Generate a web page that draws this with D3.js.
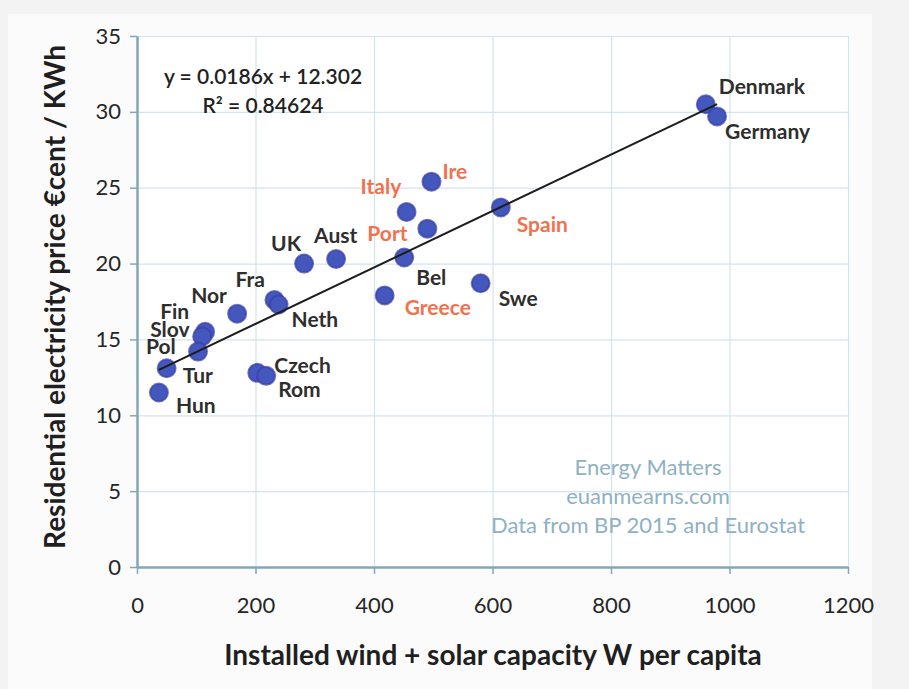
<!DOCTYPE html>
<html>
<head>
<meta charset="utf-8">
<script src="https://cdn.jsdelivr.net/npm/d3@7"></script>
<style>
  html, body { margin: 0; padding: 0; background: #f3f3f3; }
  svg { display: block; }
  .axis .tick text { font-family: Lato, "Open Sans", sans-serif; font-size: 22px; fill: #262626; }
</style>
</head>
<body>
<div id="chart"></div>
<script>
// values
const countries = ['Denmark', 'Germany', 'Ire', 'Italy', 'Port', 'Spain', 'UK', 'Aust', 'Bel',
  'Fra', 'Neth', 'Nor', 'Fin', 'Slov', 'Pol', 'Tur', 'Hun', 'Czech', 'Rom', 'Greece', 'Swe'];
const capacity = [960, 979, 497, 455, 490, 614, 282, 336, 451,
  232, 239, 169, 115, 110, 103, 50, 37, 203, 218, 418, 580];
const price = [30.5, 29.7, 25.4, 23.4, 22.3, 23.7, 20.0, 20.3, 20.4,
  17.6, 17.3, 16.7, 15.5, 15.2, 14.2, 13.1, 11.5, 12.8, 12.6, 17.9, 18.7];
const highlighted = ['Ire', 'Italy', 'Port', 'Spain', 'Greece'];

const xTicks = [0, 200, 400, 600, 800, 1000, 1200];
const yTicks = [0, 5, 10, 15, 20, 25, 30, 35];

const slope = 0.0186;
const intercept = 12.302;
const equationLines = ['y = 0.0186x + 12.302', 'R² = 0.84624'];
const creditLines = ['Energy Matters', 'euanmearns.com', 'Data from BP 2015 and Eurostat'];

// label placement next to each point (layout only)
const labelOffset = {
  Denmark: [13, -18], Germany: [8, 15], Ire: [11, -10], Italy: [-46, -25], Port: [-60, 5],
  Spain: [16, 17], UK: [-33, -20], Aust: [-22, -23], Bel: [12, 20], Fra: [-39, -20],
  Neth: [13, 15], Nor: [-46, -18], Fin: [-45, -20], Slov: [-52, -7], Pol: [-52, -5],
  Tur: [16, 7], Hun: [17, 13], Czech: [17, -7], Rom: [12, 14], Greece: [20, 12], Swe: [18, 15]
};

const width = 909, height = 689;
const margin = { top: 36, right: 61, bottom: 122, left: 137 };
const innerWidth = width - margin.left - margin.right;
const innerHeight = height - margin.top - margin.bottom;

const font = 'Lato, "Open Sans", sans-serif';

const svg = d3.select('#chart')
  .append('svg')
    .attr('width', width)
    .attr('height', height);

svg.append('rect')
  .attr('x', 8).attr('y', 14)
  .attr('width', 864).attr('height', height - 14)
  .attr('fill', '#fbfbfb');

const g = svg.append('g')
  .attr('transform', `translate(${margin.left}, ${margin.top})`);

const x = d3.scaleLinear().domain([0, 1200]).range([0, innerWidth]);
const y = d3.scaleLinear().domain([0, 35]).range([innerHeight, 0]);

g.append('rect')
  .attr('width', innerWidth)
  .attr('height', innerHeight)
  .attr('fill', '#ffffff');

// gridlines
g.append('g')
  .attr('transform', `translate(0, ${innerHeight})`)
  .call(d3.axisBottom(x).tickValues(xTicks).tickSize(-innerHeight).tickFormat(''))
  .call(s => s.select('.domain').remove())
  .call(s => s.selectAll('text').remove())
  .call(s => s.selectAll('line').attr('stroke', '#d3e3ec').attr('stroke-width', 1.2));

g.append('g')
  .call(d3.axisLeft(y).tickValues(yTicks).tickSize(-innerWidth).tickFormat(''))
  .call(s => s.select('.domain').remove())
  .call(s => s.selectAll('text').remove())
  .call(s => s.selectAll('line').attr('stroke', '#d3e3ec').attr('stroke-width', 1.2));

// axes
g.append('g')
  .attr('class', 'axis')
  .attr('transform', `translate(0, ${innerHeight})`)
  .call(d3.axisBottom(x).tickValues(xTicks).tickFormat(d3.format('d')).tickSize(7).tickSizeOuter(0).tickPadding(23))
  .call(s => s.select('.domain').attr('stroke', '#86a6b8').attr('stroke-width', 2.5))
  .call(s => s.selectAll('line').attr('stroke', '#86a6b8').attr('stroke-width', 1.5));

g.append('g')
  .attr('class', 'axis')
  .call(d3.axisLeft(y).tickValues(yTicks).tickFormat(d3.format('d')).tickSize(7).tickSizeOuter(0).tickPadding(9))
  .call(s => s.select('.domain').attr('stroke', '#86a6b8').attr('stroke-width', 2.5))
  .call(s => s.selectAll('line').attr('stroke', '#86a6b8').attr('stroke-width', 1.5));

const xMin = d3.min(capacity), xMax = d3.max(capacity);

const points = countries.map((c, i) => ({ name: c, x: capacity[i], y: price[i] }));

g.selectAll('.point')
  .data(points)
  .join('circle')
    .attr('class', 'point')
    .attr('cx', d => x(d.x))
    .attr('cy', d => y(d.y))
    .attr('r', 9)
    .attr('fill', '#4357bd')
    .attr('stroke', '#3a3fa6')
    .attr('stroke-opacity', 0.7)
    .attr('stroke-width', 2);

// linear trendline over the data range
g.append('line')
  .attr('x1', x(xMin)).attr('y1', y(slope * xMin + intercept))
  .attr('x2', x(xMax)).attr('y2', y(slope * xMax + intercept))
  .attr('stroke', '#1c1c1c')
  .attr('stroke-width', 2);

g.selectAll('.label')
  .data(points)
  .join('text')
    .attr('class', 'label')
    .attr('x', d => x(d.x) + labelOffset[d.name][0])
    .attr('y', d => y(d.y) + labelOffset[d.name][1])
    .attr('dy', '0.35em')
    .attr('font-family', font)
    .attr('font-size', 21)
    .attr('font-weight', 700)
    .attr('fill', d => highlighted.includes(d.name) ? '#f2714f' : '#2e2e2e')
    .text(d => d.name);

// regression equation
g.selectAll('.equation')
  .data(equationLines)
  .join('text')
    .attr('class', 'equation')
    .attr('x', 126)
    .attr('y', (d, i) => 41 + i * 29)
    .attr('dy', '0.35em')
    .attr('text-anchor', 'middle')
    .attr('font-family', font)
    .attr('font-size', 21)
    .attr('font-weight', 600)
    .attr('fill', '#222')
    .text(d => d);

// credits
g.selectAll('.credit')
  .data(creditLines)
  .join('text')
    .attr('class', 'credit')
    .attr('x', 511)
    .attr('y', (d, i) => 431 + i * 29)
    .attr('dy', '0.35em')
    .attr('text-anchor', 'middle')
    .attr('font-family', font)
    .attr('font-size', 22)
    .attr('fill', '#8eb1c4')
    .text(d => d);

// axis titles
svg.append('text')
  .attr('x', 493)
  .attr('y', 655)
  .attr('dy', '0.35em')
  .attr('text-anchor', 'middle')
  .attr('font-family', font)
  .attr('font-size', 28)
  .attr('font-weight', 700)
  .attr('fill', '#1f1f1f')
  .text('Installed wind + solar capacity W per capita');

svg.append('text')
  .attr('transform', 'translate(55, 297) rotate(-90)')
  .attr('dy', '0.35em')
  .attr('text-anchor', 'middle')
  .attr('font-family', font)
  .attr('font-size', 28)
  .attr('font-weight', 700)
  .attr('fill', '#1f1f1f')
  .text('Residential electricity price €cent / KWh');
</script>
</body>
</html>
